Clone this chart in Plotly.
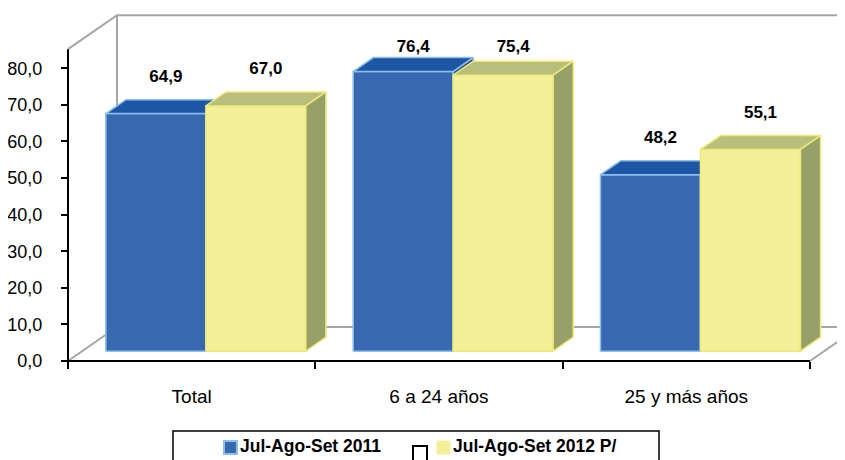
import plotly.graph_objects as go

# ---------------- data ----------------
categories = ["Total", "6 a 24 años", "25 y más años"]
series_names = ["Jul-Ago-Set 2011", "Jul-Ago-Set 2012 P/"]
values_2011 = [64.9, 76.4, 48.2]
values_2012 = [67.0, 75.4, 55.1]
y_tick_values = [0, 10, 20, 30, 40, 50, 60, 70, 80]
y_tick_labels = ["0,0", "10,0", "20,0", "30,0", "40,0", "50,0", "60,0", "70,0", "80,0"]

# ---------------- styling / geometry ----------------
PAGE_W, PAGE_H = 845, 460
OFF = 8                      # default body margin of the html page
W, H = PAGE_W - OFF, PAGE_H - OFF
FONT = "Liberation Sans, Arial, sans-serif"
PX_X = 247.3      # pixels per category
PX_Y = 3.66       # pixels per value unit
X0_PX = 68 - OFF  # figure pixel of left axis (x = -0.5)
Y0_PX = 361 - OFF # figure pixel of value 0 at front plane
YMAX = 85.2
DEPTH_X = 49 / PX_X
DEPTH_Y = 34 / PX_Y
D0, D1 = 0.29, 0.70
BAR_W = 100 / PX_X
LABEL_GAP = 22 / PX_Y
LABEL_CAP = (Y0_PX - (48 - OFF)) / PX_Y

series = [
    dict(name=series_names[0], values=values_2011, front="#3868B0", top="#1E56A6",
         side="#2A4F8F", edge="#8CC0EA"),
    dict(name=series_names[1], values=values_2012, front="#F4F09A", top="#B8BE7C",
         side="#98A06A", edge="#EEEA78"),
]

x_range = [-0.5 - X0_PX / PX_X, -0.5 + (W - X0_PX) / PX_X]
y_range = [-(H - Y0_PX) / PX_Y, Y0_PX / PX_Y]


def proj(x, v, d):
    return x + d * DEPTH_X, v + d * DEPTH_Y


def poly(points):
    xs = [p[0] for p in points] + [points[0][0]]
    ys = [p[1] for p in points] + [points[0][1]]
    return xs, ys


fig = go.Figure()

# walls (grey outline)
n = len(categories)
xl_wall, xr_wall = -0.5, n - 0.5
wall_segments = [
    [proj(xl_wall, YMAX, 0), proj(xl_wall, YMAX, 1), proj(xr_wall, YMAX, 1)],
    [proj(xl_wall, YMAX, 1), proj(xl_wall, 0, 1)],
    [proj(xl_wall, 0, 0), proj(xl_wall, 0, 1), proj(xr_wall, 0, 1)],
    [proj(xr_wall, 0, 0), proj(xr_wall, 0, 1)],
]
wx, wy = [], []
for seg in wall_segments:
    wx += [p[0] for p in seg] + [None]
    wy += [p[1] for p in seg] + [None]
fig.add_trace(go.Scatter(x=wx, y=wy, mode="lines", line=dict(color="#A6A6A6", width=2),
                         hoverinfo="skip", showlegend=False))

# front axes (black)
ax_pts = [proj(xl_wall, YMAX, 0), proj(xl_wall, 0, 0), proj(xr_wall, 0, 0)]
fig.add_trace(go.Scatter(x=[p[0] for p in ax_pts], y=[p[1] for p in ax_pts], mode="lines",
                         line=dict(color="#000000", width=2), hoverinfo="skip", showlegend=False))

# bars
label_x = [[], []]
label_y = [[], []]
for i in range(n):
    for s, ser in enumerate(series):
        v = ser["values"][i]
        xl = i - BAR_W + s * BAR_W
        xr = xl + BAR_W
        front = [proj(xl, 0, D0), proj(xr, 0, D0), proj(xr, v, D0), proj(xl, v, D0)]
        top = [proj(xl, v, D0), proj(xr, v, D0), proj(xr, v, D1), proj(xl, v, D1)]
        side = [proj(xr, 0, D0), proj(xr, 0, D1), proj(xr, v, D1), proj(xr, v, D0)]
        for pts, col in ((front, ser["front"]), (top, ser["top"]), (side, ser["side"])):
            px, py = poly(pts)
            fig.add_trace(go.Scatter(x=px, y=py, mode="lines", fill="toself", fillcolor=col,
                                     line=dict(color=ser["edge"], width=1.5),
                                     hoverinfo="skip", showlegend=False))
        cx, cy = proj((xl + xr) / 2, v, (D0 + D1) / 2)
        label_x[s].append(cx)
        label_y[s].append(min(proj(xl, v, D1)[1] + LABEL_GAP, LABEL_CAP))

for s, ser in enumerate(series):
    fig.add_trace(go.Scatter(
        x=label_x[s], y=label_y[s], mode="text",
        text=["<b>" + f"{v:.1f}".replace(".", ",") + "</b>" for v in ser["values"]],
        textposition="middle center",
        textfont=dict(family=FONT, size=17, color="#000000"),
        hoverinfo="skip", showlegend=False))

# ---------------- legend (custom, boxed) ----------------
def xp(px):
    return (px - OFF) / W


def yp(py):
    return 1 - (py - OFF) / H


shapes = [
    dict(type="rect", xref="paper", yref="paper", x0=xp(173), x1=xp(659), y0=yp(431), y1=yp(475),
         line=dict(color="#000000", width=1.5), fillcolor="#FFFFFF", layer="below"),
    dict(type="rect", xref="paper", yref="paper", x0=xp(224), x1=xp(237), y0=yp(441), y1=yp(454),
         line=dict(color=series[0]["edge"], width=2), fillcolor=series[0]["front"]),
    dict(type="rect", xref="paper", yref="paper", x0=xp(413), x1=xp(427), y0=yp(446), y1=yp(461),
         line=dict(color="#000000", width=2), fillcolor="#FFFFFF"),
    dict(type="rect", xref="paper", yref="paper", x0=xp(437), x1=xp(450), y0=yp(441), y1=yp(454),
         line=dict(color=series[1]["front"], width=1), fillcolor=series[1]["front"]),
]
annotations = [
    dict(xref="paper", yref="paper", x=xp(238), y=yp(446), xanchor="left", yanchor="middle",
         text="<b>" + series_names[0] + "</b>", showarrow=False,
         font=dict(family=FONT, size=17.5, color="#000000")),
    dict(xref="paper", yref="paper", x=xp(451), y=yp(446), xanchor="left", yanchor="middle",
         text="<b>" + series_names[1] + "</b>", showarrow=False,
         font=dict(family=FONT, size=17.5, color="#000000")),
]

fig.update_layout(
    width=W, height=H,
    margin=dict(l=0, r=0, t=0, b=0, pad=0),
    paper_bgcolor="#FFFFFF", plot_bgcolor="#FFFFFF",
    showlegend=False,
    shapes=shapes, annotations=annotations,
    xaxis=dict(range=x_range, showgrid=False, zeroline=False, showline=False, automargin=False,
               tickmode="array", tickvals=list(range(n)), ticktext=categories, ticks="",
               anchor="free", position=(H - Y0_PX) / H, ticklabelstandoff=22,
               tickfont=dict(family=FONT, size=19, color="#000000"),
               minor=dict(tickmode="array", tickvals=[k - 0.5 for k in range(n + 1)],
                          ticks="outside", ticklen=7, tickwidth=2, tickcolor="#000000")),
    yaxis=dict(range=y_range, showgrid=False, zeroline=False, showline=False, automargin=False,
               tickmode="array", tickvals=y_tick_values, ticktext=y_tick_labels,
               ticks="outside", ticklen=7, tickwidth=2, tickcolor="#000000",
               anchor="free", position=X0_PX / W, ticklabelstandoff=15,
               tickfont=dict(family=FONT, size=18, color="#000000")),
)

fig.write_html("out.html")
